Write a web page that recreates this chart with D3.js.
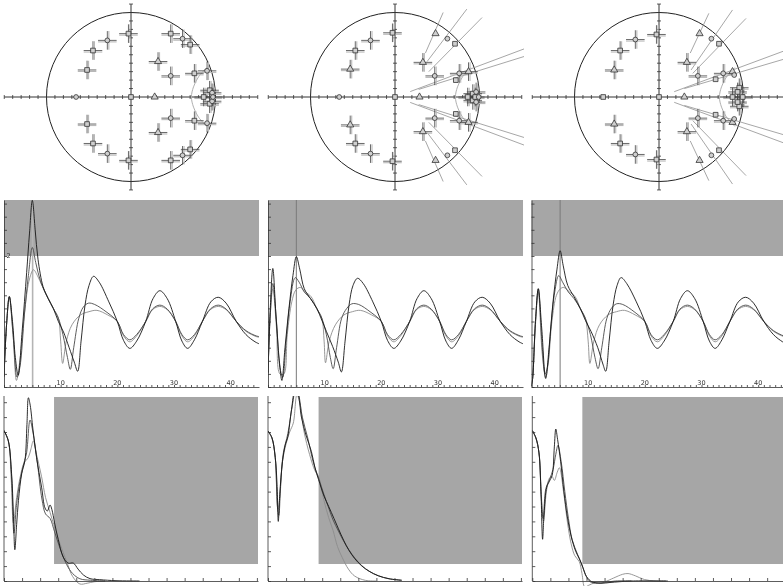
<!DOCTYPE html>
<html>
<head>
<meta charset="utf-8">
<script src="https://cdn.jsdelivr.net/npm/d3@7"></script>
<style>
  html, body { margin: 0; padding: 0; background: #fff; }
  svg { display: block; font-family: "DejaVu Sans", sans-serif; }
  .labels { filter: grayscale(100%); }
</style>
</head>
<body>
<svg id="chart" width="783" height="586"></svg>
<script>
// ---------- pole / zero maps (z-plane units) ----------
// conjugate pairs, upper half only: [re, im, kind, hasBars]; kind: o circle, s square, t triangle
const pzPairs1 = [
  [-0.03, 0.75, 's', 1], [-0.28, 0.67, 'o', 1], [-0.45, 0.55, 's', 1], [-0.52, 0.32, 's', 1],
  [0.32, 0.42, 't', 1], [0.47, 0.25, 'o', 1], [0.47, 0.75, 's', 1], [0.61, 0.69, 'o', 1],
  [0.70, 0.62, 's', 1], [0.75, 0.28, 's', 1], [0.90, 0.31, 'o', 1], [0.93, 0.08, 's', 1],
  [0.96, 0.05, 'o', 1]
];
const pzPairs2 = [
  [-0.03, 0.76, 's', 1], [-0.29, 0.67, 'o', 1], [-0.47, 0.55, 's', 1], [-0.53, 0.33, 't', 1],
  [0.33, 0.41, 't', 1], [0.47, 0.25, 'o', 1], [0.48, 0.75, 't', 0], [0.62, 0.69, 'o', 0],
  [0.71, 0.63, 's', 0], [0.76, 0.28, 'o', 1], [0.72, 0.20, 's', 0], [0.87, 0.30, 't', 1],
  [0.92, 0.04, 's', 1], [0.96, 0.06, 'o', 1]
];
const pzPairs3 = [
  [-0.03, 0.74, 's', 1], [-0.28, 0.68, 'o', 1], [-0.46, 0.55, 's', 1], [-0.53, 0.32, 't', 1],
  [0.33, 0.41, 't', 1], [0.46, 0.25, 'o', 1], [0.48, 0.75, 't', 0], [0.62, 0.69, 'o', 0],
  [0.71, 0.63, 's', 0], [0.76, 0.28, 'o', 1], [0.67, 0.21, 's', 0], [0.87, 0.30, 't', 0],
  [0.89, 0.26, 'o', 0], [0.95, 0.11, 's', 1], [0.93, 0.06, 's', 1]
];
// roots on the real axis
const pzReal1 = [[-0.65, 0, 'o', 0], [0, 0, 's', 0], [0.28, 0, 't', 0], [0.86, 0, 's', 1], [0.97, 0, 'o', 1]];
const pzReal2 = [[-0.66, 0, 'o', 0], [0, 0, 's', 0], [0.29, 0, 't', 0], [0.86, 0, 's', 1], [0.95, 0, 's', 1], [0.99, 0, 'o', 0]];
const pzReal3 = [[-0.66, 0, 's', 0], [0, 0, 's', 0], [0.30, 0, 't', 0], [0.87, 0, 's', 1], [0.99, 0, 's', 1]];
// sensitivity directions, upper half: [re1, im1, re2, im2]
const pzRays1 = [];
const pzRays2 = [
  [0.36, 0.52, 0.57, 1.00], [0.38, 0.42, 0.85, 1.04], [0.40, 0.30, 1.03, 0.94],
  [0.18, 0.064, 1.53, 0.57], [0.28, 0.09, 1.53, 0.48]
];
const pzRays3 = [
  [0.37, 0.52, 0.59, 0.99], [0.38, 0.32, 0.87, 1.03], [0.40, 0.28, 1.03, 0.93],
  [0.18, 0.063, 1.52, 0.56], [0.30, 0.10, 1.52, 0.46]
];
// stability contour
const contourArc = [[0.90, 0.35], [0.80, 0.24], [0.74, 0.12], [0.715, 0], [0.74, -0.12], [0.80, -0.24], [0.90, -0.35]];

// ---------- group delay ----------
const delayLabels = [10, 20, 30, 40];
const delayLimit = 2;
const delayMarker = [5.05, 5.0, 5.05];
const tailBlack = [[20, 1.0], [21.1, 0.71], [22.2, 0.59], [23.4, 0.7], [25, 1.0], [26.3, 1.35], [27.5, 1.47], [28.8, 1.35], [30.3, 1.0], [31.4, 0.7], [32.4, 0.59], [33.6, 0.72], [35, 1.0], [36.5, 1.3], [37.8, 1.37], [39.2, 1.28], [41, 1.0], [42.7, 0.8], [44.3, 0.69], [45, 0.66]];
const tailDark = [[20, 1.0], [21.1, 0.8], [22.2, 0.72], [23.4, 0.8], [25, 1.0], [26.2, 1.19], [27.5, 1.25], [28.8, 1.19], [30.3, 1.0], [31.4, 0.8], [32.4, 0.72], [33.6, 0.8], [35, 1.0], [36.4, 1.19], [37.8, 1.25], [39.2, 1.19], [41, 1.0], [42.7, 0.86], [44.5, 0.78], [45, 0.77]];
const tailLight = [[20, 1.0], [21.1, 0.78], [22.2, 0.69], [23.4, 0.78], [25, 1.0], [26.2, 1.18], [27.5, 1.23], [28.8, 1.18], [30.3, 1.0], [31.4, 0.78], [32.4, 0.69], [33.6, 0.78], [35, 1.0], [36.4, 1.18], [37.8, 1.23], [39.2, 1.18], [41, 1.0], [42.7, 0.85], [44.5, 0.77], [45, 0.76]];

const delayHead1 = {
  black: [[0, 0.16], [0.45, 0.95], [0.94, 1.38], [1.5, 1.0], [2.0, 0.45], [2.5, 0.18], [3.2, 0.85], [4.0, 1.75], [4.5, 2.35], [5.0, 2.85], [5.5, 2.4], [6.0, 1.95], [6.9, 1.53], [7.8, 1.35], [8.7, 1.2], [9.6, 1.0], [10.5, 0.84], [11.5, 0.6], [12.4, 0.38], [13.0, 0.24], [13.6, 0.7], [14.3, 1.25], [15.0, 1.55], [15.8, 1.69], [16.8, 1.6], [18.5, 1.3]],
  dark: [[0, 0.16], [0.45, 0.95], [0.94, 1.38], [1.6, 0.8], [2.3, 0.15], [2.8, 0.3], [3.6, 1.1], [4.3, 1.7], [5.0, 2.13], [5.6, 1.9], [6.5, 1.6], [7.8, 1.35], [8.7, 1.2], [9.6, 1.05], [10.4, 0.8], [11.2, 0.45], [11.7, 0.27], [12.3, 0.6], [13.2, 1.05], [14.0, 1.22], [14.9, 1.28], [16.0, 1.26], [18.0, 1.15]],
  light: [[0, 0.16], [0.45, 0.95], [0.94, 1.38], [1.6, 0.8], [2.2, 0.1], [2.8, 0.4], [3.7, 1.2], [4.5, 1.65], [5.2, 1.79], [5.9, 1.7], [6.7, 1.55], [7.8, 1.35], [8.7, 1.2], [9.6, 1.05], [10.0, 0.7], [10.35, 0.36], [11.0, 0.7], [12.0, 0.95], [13.5, 1.1], [15.0, 1.15], [16.4, 1.17], [18.3, 1.1]]
};
const delayHead2 = {
  black: [[0, 0.22], [0.4, 1.2], [0.85, 1.81], [1.4, 1.1], [2.0, 0.4], [2.45, 0.1], [3.0, 0.6], [3.7, 1.2], [4.4, 1.7], [5.0, 1.99], [5.6, 1.8], [6.4, 1.5], [7.5, 1.35], [8.6, 1.2], [9.5, 1.02], [10.3, 0.85], [11.4, 0.62], [12.4, 0.38], [12.95, 0.23], [13.6, 0.7], [14.3, 1.25], [15.0, 1.55], [15.8, 1.66], [16.8, 1.58], [18.5, 1.3]],
  dark: [[0, 0.22], [0.4, 1.1], [0.85, 1.58], [1.5, 1.0], [2.1, 0.3], [2.6, 0.15], [3.2, 0.7], [3.9, 1.3], [4.8, 1.67], [5.5, 1.6], [6.4, 1.45], [7.5, 1.35], [8.6, 1.2], [9.5, 1.05], [10.3, 0.8], [11.0, 0.45], [11.5, 0.28], [12.1, 0.6], [13.0, 1.05], [13.9, 1.2], [14.8, 1.27], [16.0, 1.26], [18.0, 1.15]],
  light: [[0, 0.22], [0.4, 1.1], [0.85, 1.5], [1.5, 0.9], [2.1, 0.2], [2.8, 0.2], [3.4, 0.8], [4.2, 1.3], [4.9, 1.48], [5.7, 1.52], [6.6, 1.45], [7.6, 1.38], [8.6, 1.2], [9.5, 1.05], [9.9, 0.7], [10.15, 0.37], [10.8, 0.7], [11.9, 0.95], [13.4, 1.1], [14.9, 1.15], [16.3, 1.17], [18.3, 1.1]]
};
const delayHead3 = {
  black: [[0, 0.02], [0.2, 0.13], [0.7, 1.0], [1.2, 1.5], [1.8, 0.9], [2.5, 0.13], [3.1, 0.6], [3.8, 1.3], [4.5, 1.8], [5.05, 2.08], [5.6, 1.85], [6.4, 1.55], [7.5, 1.38], [8.6, 1.2], [9.5, 1.02], [10.5, 0.85], [11.7, 0.6], [12.6, 0.35], [13.1, 0.24], [13.7, 0.7], [14.4, 1.25], [15.1, 1.55], [15.8, 1.67], [16.8, 1.58], [18.5, 1.3]],
  dark: [[0, 0.02], [0.2, 0.13], [0.7, 1.0], [1.2, 1.5], [1.9, 0.6], [2.4, 0.2], [2.8, 0.3], [3.4, 0.9], [4.1, 1.45], [4.8, 1.70], [5.5, 1.6], [6.5, 1.45], [7.5, 1.35], [8.6, 1.2], [9.5, 1.05], [10.4, 0.8], [11.2, 0.45], [11.75, 0.28], [12.4, 0.6], [13.3, 1.05], [14.1, 1.2], [15.0, 1.27], [16.1, 1.26], [18.1, 1.15]],
  light: [[0, 0.02], [0.2, 0.13], [0.7, 0.95], [1.2, 1.45], [1.9, 0.5], [2.5, 0.15], [3.0, 0.4], [3.6, 1.0], [4.4, 1.4], [5.1, 1.5], [5.7, 1.52], [6.7, 1.45], [7.7, 1.38], [8.6, 1.2], [9.5, 1.05], [10.0, 0.7], [10.3, 0.36], [11.0, 0.7], [12.0, 0.95], [13.5, 1.1], [15.0, 1.15], [16.4, 1.17], [18.3, 1.1]]
};

// ---------- magnitude response ----------
const respStopStart = [2.77, 2.8, 2.77];
const respStopBand = [1.14, 12.35];
const resp1 = {
  black: [[0, 10.1], [0.24, 9.4], [0.42, 7.2], [0.52, 4.5], [0.6, 2.1], [0.7, 3.8], [0.8, 5.4], [0.98, 7.2], [1.16, 8.1], [1.27, 10.5], [1.35, 12.3], [1.45, 11.8], [1.6, 10.2], [1.8, 8.3], [2.08, 6.3], [2.27, 4.9], [2.4, 4.7], [2.55, 5.1], [2.65, 4.8], [2.8, 3.9], [3.0, 2.8], [3.28, 1.6], [3.55, 1.2], [3.84, 1.2], [4.1, 0.8], [4.4, 0.4], [4.76, 0.16], [5.3, 0.09], [6.2, 0.02], [7.5, 0]],
  dark: [[0, 10.1], [0.24, 9.4], [0.42, 7.0], [0.55, 3.2], [0.7, 5.2], [0.9, 6.8], [1.1, 7.9], [1.25, 8.6], [1.44, 10.8], [1.6, 10.0], [1.85, 7.9], [2.1, 5.5], [2.3, 4.5], [2.55, 4.2], [2.8, 3.3], [3.1, 2.2], [3.47, 1.1], [3.8, 0.5], [4.2, 0.15], [4.8, 0.05], [5.6, 0]],
  light: [[0, 10.1], [0.24, 9.4], [0.4, 6.8], [0.52, 3.9], [0.7, 5.6], [0.9, 7.0], [1.1, 7.9], [1.35, 8.3], [1.5, 8.9], [1.62, 9.4], [1.8, 8.5], [2.08, 7.0], [2.3, 5.6], [2.55, 4.6], [2.75, 3.8], [3.1, 2.5], [3.47, 1.3], [3.8, 0.3], [4.2, -0.2], [4.6, -0.15], [5.0, -0.05], [5.6, 0]]
};
const resp2 = {
  black: [[0, 10.07], [0.22, 9.6], [0.4, 8.3], [0.5, 6.5], [0.57, 4.0], [0.65, 5.8], [0.8, 8.0], [0.95, 9.1], [1.1, 9.7], [1.3, 11.5], [1.5, 12.8], [1.65, 12.6], [1.85, 11.0], [2.1, 9.8], [2.4, 8.7], [2.6, 7.6], [2.8, 6.8], [3.1, 5.7], [3.36, 5.0], [3.65, 4.2], [3.9, 3.5], [4.2, 2.7], [4.46, 2.1], [4.8, 1.5], [5.2, 1.0], [5.6, 0.65], [6.1, 0.35], [6.7, 0.15], [7.4, 0.05]],
  dark: [[0, 10.07], [0.22, 9.6], [0.4, 8.3], [0.52, 5.0], [0.6, 4.4], [0.7, 6.5], [0.85, 8.6], [1.1, 9.9], [1.35, 11.8], [1.55, 13.0], [1.7, 12.5], [1.9, 11.0], [2.2, 9.6], [2.5, 8.0], [2.8, 6.9], [3.1, 5.8], [3.36, 4.9], [3.6, 4.1], [3.9, 3.35], [4.2, 2.65], [4.5, 2.05], [4.8, 1.55], [5.2, 1.02], [5.6, 0.66], [6.1, 0.36], [6.7, 0.15], [7.4, 0.05]],
  light: [[0, 10.07], [0.22, 9.6], [0.4, 8.3], [0.55, 4.8], [0.65, 5.5], [0.8, 8.0], [1.0, 9.2], [1.2, 10.0], [1.4, 10.6], [1.6, 12.5], [1.75, 12.0], [2.0, 10.0], [2.3, 8.5], [2.6, 7.4], [2.8, 7.0], [3.1, 5.4], [3.36, 4.25], [3.6, 3.4], [3.85, 2.3], [4.1, 1.6], [4.45, 0.8], [4.8, 0.33], [5.4, 0.04], [6.0, 0]]
};
const resp3 = {
  black: [[0, 10.1], [0.2, 9.6], [0.37, 8.6], [0.48, 6.0], [0.57, 2.8], [0.65, 4.5], [0.8, 6.3], [0.95, 6.7], [1.1, 7.1], [1.22, 9.0], [1.3, 10.2], [1.4, 9.5], [1.57, 8.0], [1.75, 6.0], [1.94, 4.3], [2.15, 3.0], [2.4, 2.0], [2.6, 1.5], [2.8, 0.9], [3.0, 0.3], [3.3, -0.05], [3.8, -0.15], [4.3, -0.1], [4.8, -0.05], [5.5, 0], [7.5, 0]],
  dark: [[0, 10.1], [0.2, 9.6], [0.37, 8.6], [0.5, 5.5], [0.6, 4.2], [0.75, 6.2], [0.95, 6.8], [1.15, 7.5], [1.3, 8.5], [1.42, 9.1], [1.6, 8.0], [1.8, 6.0], [2.0, 4.2], [2.2, 2.8], [2.5, 1.8], [2.75, 1.1], [2.95, 0.4], [3.2, -0.05], [3.6, -0.15], [4.0, -0.1], [4.6, 0], [5.5, 0]],
  light: [[0, 10.1], [0.2, 9.6], [0.37, 8.6], [0.5, 5.8], [0.62, 4.0], [0.78, 6.0], [0.95, 6.9], [1.1, 7.0], [1.22, 6.75], [1.38, 7.3], [1.5, 7.6], [1.75, 5.8], [1.95, 3.9], [2.15, 2.5], [2.35, 1.7], [2.6, 1.3], [2.75, 0.5], [2.9, -0.4], [3.1, -0.3], [3.5, -0.1], [4.0, -0.05], [4.5, 0.2], [5.0, 0.45], [5.3, 0.5], [5.7, 0.35], [6.2, 0.1], [6.8, 0], [7.4, 0]]
};

// ---------- drawing ----------
const svg = d3.select('#chart');
const defs = svg.append('defs');
const panelX = [[0, 262], [262, 524], [524, 783]];
const GRAY_BOX = '#a6a6a6';
const INK = { black: '#161616', dark: '#4a4a4a', light: '#8c8c8c' };

function clipRect(id, x, y, w, h) {
  defs.append('clipPath').attr('id', id)
    .append('rect').attr('x', x).attr('y', y).attr('width', w).attr('height', h);
  return `url(#${id})`;
}

// --- z-plane panels ---
const pzAll = [
  { pairs: pzPairs1, real: pzReal1, rays: pzRays1, cx: 131 },
  { pairs: pzPairs2, real: pzReal2, rays: pzRays2, cx: 395 },
  { pairs: pzPairs3, real: pzReal3, rays: pzRays3, cx: 659 }
];
const unitPx = 84.5, cy = 97;
const symbolType = { o: d3.symbolCircle, s: d3.symbolSquare, t: d3.symbolTriangle };
const symbolSize = { o: 18, s: 22, t: 22 };

pzAll.forEach((p, i) => {
  const x = d3.scaleLinear().domain([-1.5, 1.5]).range([p.cx - 1.5 * unitPx, p.cx + 1.5 * unitPx]);
  const y = d3.scaleLinear().domain([-1.1, 1.1]).range([cy + 1.1 * unitPx, cy - 1.1 * unitPx]);
  const g = svg.append('g')
    .attr('clip-path', clipRect('pz' + i, panelX[i][0], 0, panelX[i][1] - panelX[i][0], 193));

  // unit circle
  g.append('circle').attr('cx', x(0)).attr('cy', y(0)).attr('r', x(1) - x(0))
    .attr('fill', 'none').attr('stroke', '#222').attr('stroke-width', 1);

  // axes through the origin
  g.append('line').attr('x1', x(-1.5)).attr('x2', x(1.5)).attr('y1', y(0)).attr('y2', y(0))
    .attr('stroke', '#333').attr('stroke-width', 1);
  g.append('line').attr('x1', x(0)).attr('x2', x(0)).attr('y1', y(-1.1)).attr('y2', y(1.1))
    .attr('stroke', '#333').attr('stroke-width', 1);
  const hTicks = d3.range(-15, 16).map(v => v / 10);
  const vTicks = d3.range(-11, 12).map(v => v / 10);
  g.selectAll('line.ht').data(hTicks).join('line').attr('class', 'ht')
    .attr('x1', d => x(d)).attr('x2', d => x(d)).attr('y1', y(0) - 2).attr('y2', y(0) + 2)
    .attr('stroke', '#333').attr('stroke-width', 0.8);
  g.selectAll('line.vt').data(vTicks).join('line').attr('class', 'vt')
    .attr('x1', x(0) - 2).attr('x2', x(0) + 2).attr('y1', d => y(d)).attr('y2', d => y(d))
    .attr('stroke', '#333').attr('stroke-width', 0.8);

  // stability contour
  g.append('path').datum(contourArc)
    .attr('d', d3.line().x(d => x(d[0])).y(d => y(d[1])).curve(d3.curveCatmullRom.alpha(0.5)))
    .attr('fill', 'none').attr('stroke', '#b0b0b0').attr('stroke-width', 1);

  // sensitivity rays, mirrored to the lower half
  const rays = p.rays.flatMap(r => [r, [r[0], -r[1], r[2], -r[3]]]);
  g.selectAll('line.ray').data(rays).join('line').attr('class', 'ray')
    .attr('x1', d => x(d[0])).attr('y1', d => y(d[1])).attr('x2', d => x(d[2])).attr('y2', d => y(d[3]))
    .attr('stroke', '#909090').attr('stroke-width', 0.8);

  // roots: conjugate pairs plus real roots
  const roots = p.pairs.flatMap(r => [r, [r[0], -r[1], r[2], r[3]]]).concat(p.real);
  const barHalf = 0.11;
  const withBars = roots.filter(r => r[3]);
  // light shadow of each bar
  withBars.forEach(r => {
    g.append('line').attr('x1', x(r[0] - barHalf)).attr('x2', x(r[0] + barHalf))
      .attr('y1', y(r[1]) + 1.5).attr('y2', y(r[1]) + 1.5).attr('stroke', '#b8b8b8').attr('stroke-width', 1.1);
    g.append('line').attr('x1', x(r[0]) + 1.5).attr('x2', x(r[0]) + 1.5)
      .attr('y1', y(r[1] - barHalf)).attr('y2', y(r[1] + barHalf)).attr('stroke', '#b8b8b8').attr('stroke-width', 1.1);
  });
  withBars.forEach(r => {
    g.append('line').attr('x1', x(r[0] - barHalf)).attr('x2', x(r[0] + barHalf))
      .attr('y1', y(r[1])).attr('y2', y(r[1])).attr('stroke', '#444').attr('stroke-width', 0.8);
    g.append('line').attr('x1', x(r[0])).attr('x2', x(r[0]))
      .attr('y1', y(r[1] - barHalf)).attr('y2', y(r[1] + barHalf)).attr('stroke', '#444').attr('stroke-width', 0.8);
  });
  g.selectAll('path.root').data(roots).join('path').attr('class', 'root')
    .attr('transform', d => `translate(${x(d[0])},${y(d[1])})`)
    .attr('d', d => d3.symbol().type(symbolType[d[2]]).size(symbolSize[d[2]])())
    .attr('fill', '#cfcfcf').attr('stroke', '#333').attr('stroke-width', 0.8);
});

// --- group delay panels ---
const delayHeads = [delayHead1, delayHead2, delayHead3];
const delayX0 = [4, 268, 531.5];
const delayPxPerUnit = 5.667;
const dTop = 200, dBottom = 387;

delayHeads.forEach((head, i) => {
  const x0 = delayX0[i];
  const x = d3.scaleLinear().domain([0, 45]).range([x0, x0 + 45 * delayPxPerUnit]);
  const y = d3.scaleLinear().domain([0, 2.855]).range([dBottom, dTop]);
  const right = Math.min(x(45), panelX[i][1]);
  const g = svg.append('g');
  const clip = clipRect('dl' + i, x0, dTop - 1, right - x0, dBottom - dTop + 10);

  g.append('rect').attr('x', x(0)).attr('y', y(2.855)).attr('width', right - x(0))
    .attr('height', y(delayLimit) - y(2.855)).attr('fill', GRAY_BOX);

  // marker at the delay peak
  g.append('line').attr('x1', x(delayMarker[i])).attr('x2', x(delayMarker[i]))
    .attr('y1', y(0)).attr('y2', y(2.855))
    .attr('stroke', i === 0 ? '#b4b4b4' : '#7a7a7a').attr('stroke-width', i === 0 ? 1.6 : 1);

  const line = d3.line().x(d => x(d[0])).y(d => y(d[1])).curve(d3.curveCatmullRom.alpha(0.5));
  const cg = g.append('g').attr('clip-path', clip);
  [['light', tailLight], ['dark', tailDark], ['black', tailBlack]].forEach(([k, tail]) => {
    cg.append('path').datum(head[k].concat(tail)).attr('d', line)
      .attr('fill', 'none').attr('stroke', INK[k]).attr('stroke-width', 0.9);
  });

  // axes
  const yAxis = d3.axisRight(y).tickValues(d3.range(0, 15).map(v => v * 0.2))
    .tickSizeInner(3).tickSizeOuter(0).tickFormat('');
  g.append('g').attr('transform', `translate(${x0},0)`).call(yAxis)
    .call(s => s.selectAll('path,line').attr('stroke', '#333').attr('stroke-width', 0.8));
  const xAxis = d3.axisTop(x).tickValues(d3.range(0, 45)).tickSizeInner(2).tickSizeOuter(0).tickFormat('');
  g.append('g').attr('transform', `translate(0,${dBottom})`).call(xAxis)
    .call(s => s.selectAll('path,line').attr('stroke', '#333').attr('stroke-width', 0.8));
  const lg = g.append('g').attr('class', 'labels');
  lg.selectAll('text.xl').data(delayLabels).join('text').attr('class', 'xl')
    .attr('x', d => x(d)).attr('y', dBottom - 2.5).attr('text-anchor', 'middle')
    .attr('font-size', 6.5).attr('fill', '#333').text(d => d);
  if (i === 0) {
    lg.append('text').attr('x', x0 + 2.5).attr('y', y(delayLimit) + 2.3)
      .attr('font-size', 6.5).attr('fill', '#333').text(delayLimit);
  }
});

// --- magnitude panels ---
const resps = [resp1, resp2, resp3];
const respX0 = [4, 268, 532.3];
const rTop = 396, rBottom = 581;
const respXMax = 14.06, respYMax = 12.35;

resps.forEach((r, i) => {
  const x0 = respX0[i];
  const x = d3.scaleLinear().domain([0, respXMax]).range([x0, x0 + 254]);
  const y = d3.scaleLinear().domain([0, respYMax]).range([rBottom, rBottom - respYMax * 14.9]);
  const right = Math.min(x(respXMax), panelX[i][1]);
  const g = svg.append('g');

  g.append('rect').attr('x', x(respStopStart[i])).attr('y', y(respStopBand[1]))
    .attr('width', right - x(respStopStart[i]))
    .attr('height', y(respStopBand[0]) - y(respStopBand[1])).attr('fill', GRAY_BOX);

  const clip = clipRect('rs' + i, x0, rTop, right - x0, rBottom - rTop + 8);
  const line = d3.line().x(d => x(d[0])).y(d => y(d[1])).curve(d3.curveCatmullRom.alpha(0.5));
  const cg = g.append('g').attr('clip-path', clip);
  ['light', 'dark', 'black'].forEach(k => {
    cg.append('path').datum(r[k]).attr('d', line)
      .attr('fill', 'none').attr('stroke', INK[k]).attr('stroke-width', 0.9);
  });

  const yAxis = d3.axisRight(y).tickValues(d3.range(0, 13)).tickSizeInner(3).tickSizeOuter(0).tickFormat('');
  g.append('g').attr('transform', `translate(${x0},0)`).call(yAxis)
    .call(s => s.select('.domain').attr('d', `M0,${rTop}V${rBottom}`))
    .call(s => s.selectAll('path,line').attr('stroke', '#333').attr('stroke-width', 0.8));
  const xAxis = d3.axisTop(x).tickValues(d3.range(0, 15)).tickSizeInner(3).tickSizeOuter(0).tickFormat('');
  g.append('g').attr('transform', `translate(0,${rBottom})`).call(xAxis)
    .call(s => s.selectAll('path,line').attr('stroke', '#333').attr('stroke-width', 0.8));
});
</script>
</body>
</html>
